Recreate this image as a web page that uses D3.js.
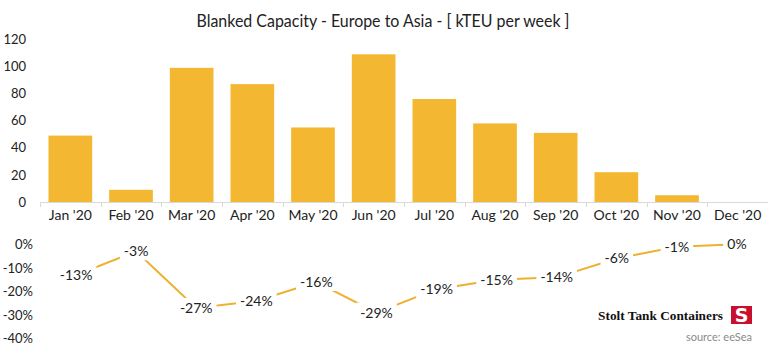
<!DOCTYPE html>
<html>
<head>
<meta charset="utf-8">
<script src="https://cdn.jsdelivr.net/npm/d3@7"></script>
<style>
  html, body { margin: 0; padding: 0; background: #fff; }
  svg { display: block; }
</style>
</head>
<body>
<svg id="chart" width="768" height="347"></svg>
<script>
const months = ["Jan '20","Feb '20","Mar '20","Apr '20","May '20","Jun '20","Jul '20","Aug '20","Sep '20","Oct '20","Nov '20","Dec '20"];
const blanked = [49, 9, 99, 87, 55, 109, 76, 58, 51, 22, 5, 0];
const pctChange = [-13, -3, -27, -24, -16, -29, -19, -15, -14, -6, -1, 0];
const barTicks = [0, 20, 40, 60, 80, 100, 120];
const pctTicks = [0, -10, -20, -30, -40];
const titleText = "Blanked Capacity - Europe to Asia - [ kTEU per week ]";
const brandText = "Stolt Tank Containers";
const sourceText = "source: eeSea";

const FONT = "Lato, 'Open Sans', sans-serif";
const GOLD = "#F4B731";
const LINE = "#EDB12F";
const svg = d3.select("#chart");

// title
svg.append("text")
  .attr("x", 383).attr("y", 27)
  .attr("text-anchor", "middle")
  .attr("font-family", FONT).attr("font-size", 18)
  .attr("textLength", 373).attr("lengthAdjust", "spacingAndGlyphs")
  .attr("fill", "#222")
  .text(titleText);

// ---- Top bar chart ----
const x = d3.scaleBand().domain(months).range([40, 768]).paddingInner(0.28).paddingOuter(0.14);
const y = d3.scaleLinear().domain([0, 120]).range([202, 39.4]);

svg.append("g").selectAll("rect")
  .data(months.map((m, i) => ({m, v: blanked[i]})))
  .join("rect")
  .attr("x", d => x(d.m))
  .attr("width", x.bandwidth())
  .attr("y", d => y(d.v))
  .attr("height", d => y(0) - y(d.v))
  .attr("fill", GOLD);

// y axis labels
const yAxis = d3.axisLeft(y).tickValues(barTicks).tickSize(0).tickPadding(0);
const gy = svg.append("g").attr("transform", "translate(26,0)").call(yAxis);
gy.select(".domain").remove();
gy.selectAll("text").attr("font-family", FONT).attr("font-size", 13).attr("fill", "#222");

// x axis
const xEdge = d3.scaleLinear().domain([0, 12]).range([40, 768]);
const axisG = svg.append("g");
axisG.append("line")
  .attr("x1", xEdge(0)).attr("x2", xEdge(12))
  .attr("y1", 202.5).attr("y2", 202.5)
  .attr("stroke", "#d9d9d9").attr("stroke-width", 1);
axisG.selectAll("line.tk").data(d3.range(13)).join("line")
  .attr("class", "tk")
  .attr("x1", d => Math.round(xEdge(d)) + 0.5).attr("x2", d => Math.round(xEdge(d)) + 0.5)
  .attr("y1", 202).attr("y2", 207)
  .attr("stroke", "#d9d9d9");
const xAxis = d3.axisBottom(x).tickSize(0).tickPadding(0);
const gx = svg.append("g").attr("transform", "translate(0,210)").call(xAxis);
gx.select(".domain").remove();
gx.selectAll("text").attr("dy", "0.71em").attr("font-family", FONT).attr("font-size", 14).attr("fill", "#222");

// ---- Bottom line chart ----
const x2 = d3.scaleBand().domain(months).range([46, 767]);
const y2 = d3.scaleLinear().domain([-40, 0]).range([338.7, 244.3]);

const gy2 = svg.append("g").attr("transform", "translate(33,0)")
  .call(d3.axisLeft(y2).tickValues(pctTicks).tickSize(0).tickPadding(0).tickFormat(d => d + "%"));
gy2.select(".domain").remove();
gy2.selectAll("text").attr("font-family", FONT).attr("font-size", 13).attr("fill", "#222");

const pts = months.map((m, i) => ({m, v: pctChange[i]}));
const line = d3.line().x(d => x2(d.m) + x2.bandwidth() / 2).y(d => y2(d.v));
svg.append("path").datum(pts)
  .attr("d", line)
  .attr("fill", "none")
  .attr("stroke", LINE)
  .attr("stroke-width", 2);

const lbl = svg.append("g").selectAll("g").data(pts).join("g")
  .attr("transform", d => `translate(${x2(d.m) + x2.bandwidth() / 2},${y2(d.v)})`);
lbl.append("rect").attr("fill", "#fff");
lbl.append("text")
  .attr("text-anchor", "middle").attr("dy", "0.35em")
  .attr("font-family", FONT).attr("font-size", 14).attr("fill", "#222")
  .text(d => d.v + "%");
lbl.each(function() {
  const t = d3.select(this).select("text").node().getBBox();
  d3.select(this).select("rect")
    .attr("x", t.x - 4).attr("y", t.y - 1)
    .attr("width", t.width + 8).attr("height", t.height + 2);
});

// ---- Branding ----
svg.append("text")
  .attr("x", 723).attr("y", 320)
  .attr("text-anchor", "end")
  .attr("font-family", "'Liberation Serif', 'Times New Roman', serif")
  .attr("font-weight", "bold").attr("font-size", 13.3)
  .attr("fill", "#111")
  .text(brandText);
const logo = svg.append("g").attr("transform", "translate(731,306)");
logo.append("rect").attr("width", 21).attr("height", 18).attr("fill", "#C8102E");
logo.append("text")
  .attr("x", 10.5).attr("y", 15.5).attr("text-anchor", "middle")
  .attr("font-family", "'DejaVu Sans', sans-serif").attr("font-weight", "bold")
  .attr("font-size", 19).attr("fill", "#fff")
  .text("S");
svg.append("text")
  .attr("x", 752).attr("y", 341)
  .attr("text-anchor", "end")
  .attr("font-family", FONT).attr("font-size", 11)
  .attr("fill", "#8a8a8a")
  .text(sourceText);
</script>
</body>
</html>
